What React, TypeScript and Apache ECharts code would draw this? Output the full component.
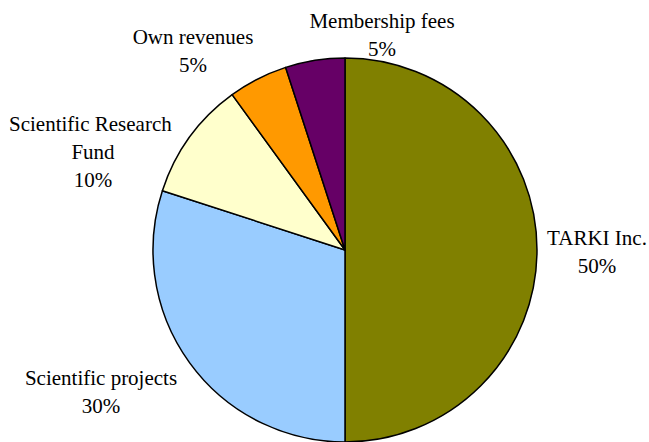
import React, { useEffect, useRef } from "react";
import * as echarts from "echarts";

const categories = [
  "TARKI Inc.",
  "Scientific projects",
  "Scientific Research Fund",
  "Own revenues",
  "Membership fees",
];
const shares = [50, 30, 10, 5, 5];
const sliceColors = ["#808000", "#99CCFF", "#FFFFCC", "#FF9900", "#660066"];

// label anchor points (centre of each label block), in pixels
const labelAnchors: [number, number][] = [
  [597, 252],
  [101, 392],
  [93, 152],
  [193, 51],
  [382, 35],
];

const SERIF = "Liberation Serif, DejaVu Serif, serif";

export default function App() {
  const ref = useRef<HTMLDivElement>(null);
  useEffect(() => {
    if (!ref.current) return;
    const chart = echarts.init(ref.current, undefined, { renderer: "svg" });
    chart.setOption({
      animation: false,
      backgroundColor: "#ffffff",
      textStyle: { fontFamily: SERIF },
      series: [
        {
          type: "pie",
          center: [345, 250],
          radius: 192,
          startAngle: 90,
          clockwise: true,
          avoidLabelOverlap: false,
          data: categories.map((name, i) => ({
            name,
            value: shares[i],
            itemStyle: { color: sliceColors[i] },
          })),
          itemStyle: { borderColor: "#000000", borderWidth: 1.5 },
          emphasis: { disabled: true },
          labelLine: { show: false },
          label: {
            show: true,
            position: "outside",
            formatter: (p: any) => `${p.name}\n${Math.round(p.percent)}%`,
            fontFamily: SERIF,
            fontSize: 21,
            lineHeight: 28,
            color: "#000000",
            width: 178,
            overflow: "break",
            align: "center",
          },
          labelLayout: (params: any) => {
            const a = labelAnchors[params.dataIndex];
            return { x: a[0], y: a[1], align: "center", verticalAlign: "middle" };
          },
        },
      ],
    });
    return () => chart.dispose();
  }, []);
  return (
    <div
      ref={ref}
      style={{ position: "fixed", left: 0, top: 0, width: 649, height: 442 }}
    />
  );
}
